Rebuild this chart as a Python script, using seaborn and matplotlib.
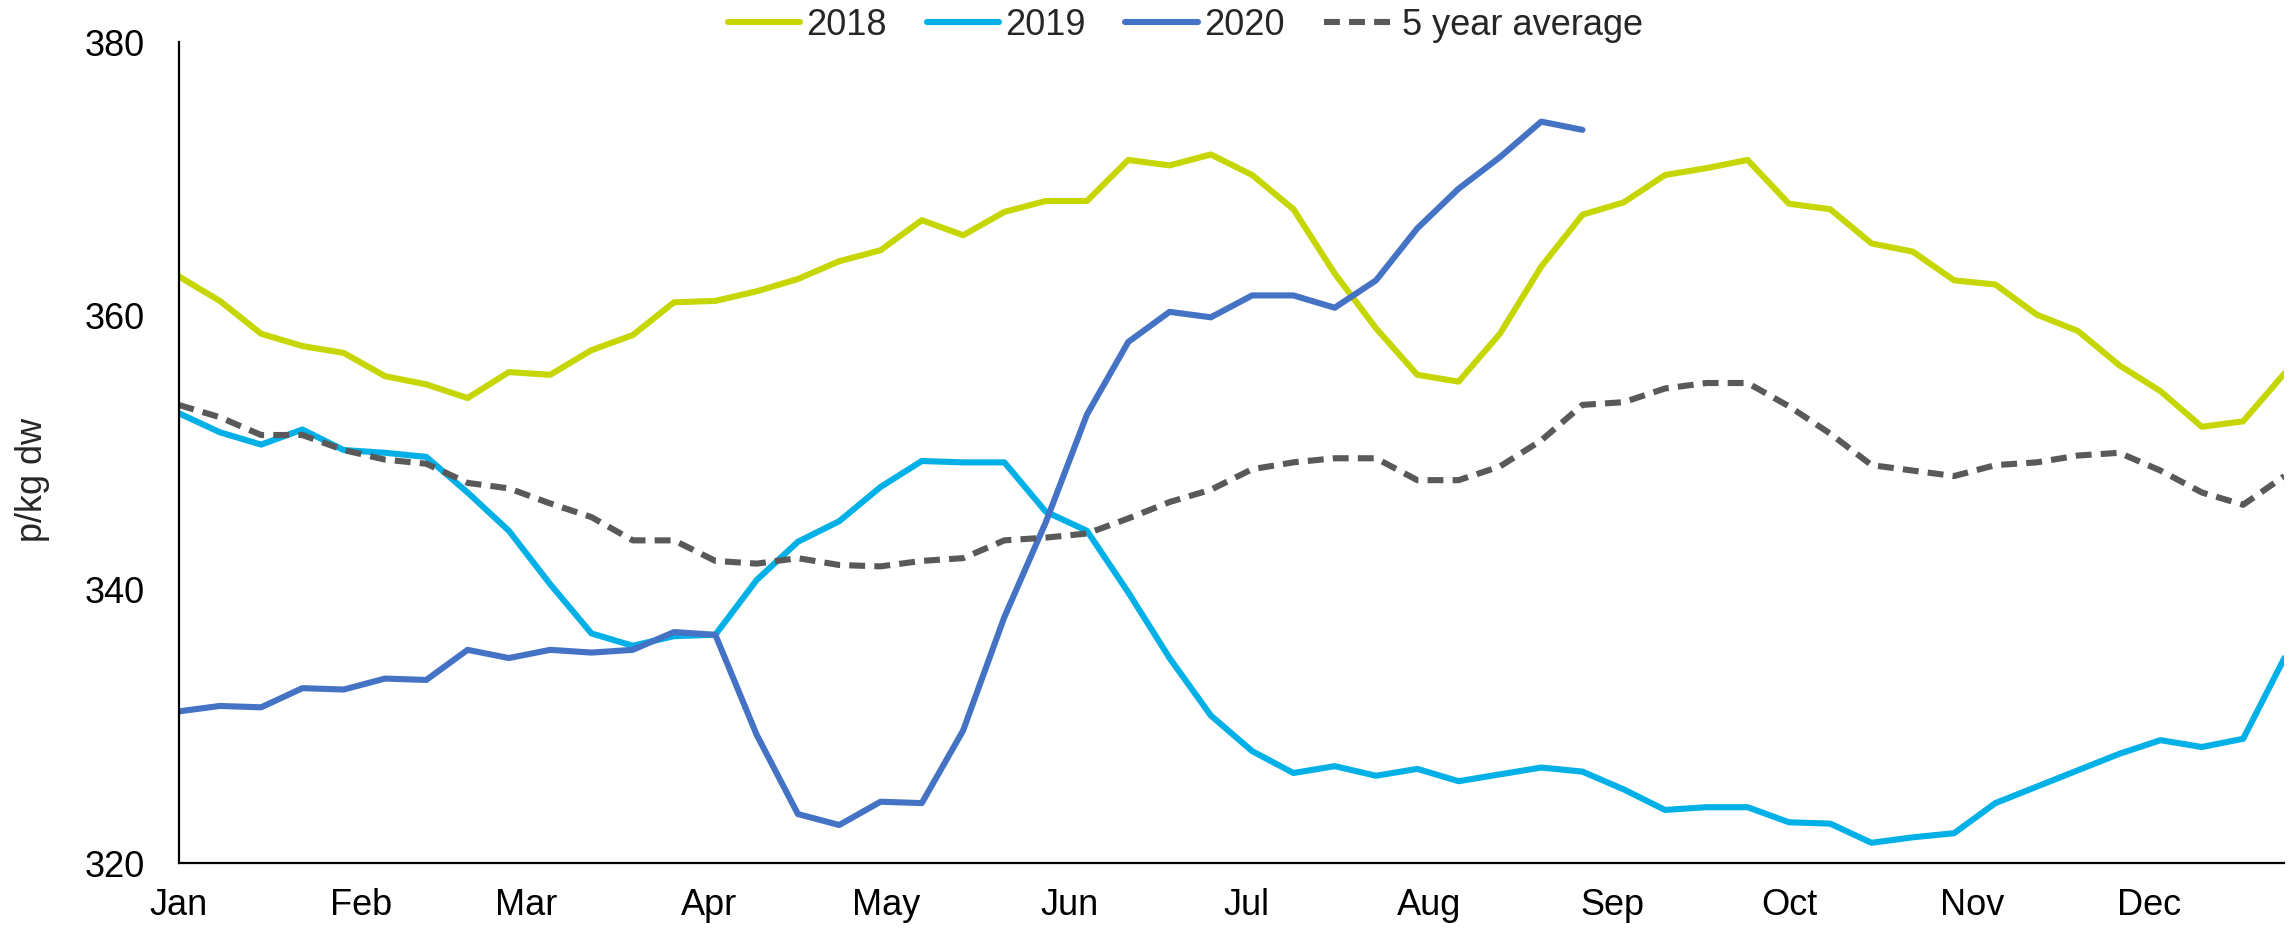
import matplotlib
matplotlib.use("Agg")
import matplotlib.pyplot as plt
import matplotlib.dates as mdates
import pandas as pd
import seaborn as sns

# weekly prices, p/kg dw
weeks = pd.date_range("2019-01-01", periods=52, freq="7D")

y2018 = [362.9, 361.1, 358.7, 357.8, 357.3, 355.6, 355.0, 354.0, 355.9, 355.7,
         357.5, 358.6, 361.0, 361.1, 361.8, 362.7, 364.0, 364.8, 367.0, 365.9,
         367.6, 368.4, 368.4, 371.4, 371.0, 371.8, 370.3, 367.8, 363.1, 359.1,
         355.7, 355.2, 358.7, 363.6, 367.4, 368.3, 370.3, 370.8, 371.4, 368.2,
         367.8, 365.3, 364.7, 362.6, 362.3, 360.1, 358.9, 356.4, 354.5, 351.9,
         352.3, 355.8]

y2019 = [352.9, 351.5, 350.6, 351.7, 350.2, 350.0, 349.7, 347.1, 344.3, 340.4,
         336.8, 335.9, 336.6, 336.7, 340.7, 343.5, 345.0, 347.5, 349.4, 349.3,
         349.3, 345.7, 344.3, 339.8, 335.0, 330.8, 328.2, 326.6, 327.1, 326.4,
         326.9, 326.0, 326.5, 327.0, 326.7, 325.4, 323.9, 324.1, 324.1, 323.0,
         322.9, 321.5, 321.9, 322.2, 324.4, 325.6, 326.8, 328.0, 329.0, 328.5,
         329.1, 335.0]

y2020 = [331.1, 331.5, 331.4, 332.8, 332.7, 333.5, 333.4, 335.6, 335.0, 335.6,
         335.4, 335.6, 336.9, 336.7, 329.4, 323.6, 322.8, 324.5, 324.4, 329.7,
         338.0, 344.9, 352.8, 358.1, 360.3, 359.9, 361.5, 361.5, 360.6, 362.6,
         366.4, 369.3, 371.6, 374.2, 373.6]

avg5 = [353.5, 352.6, 351.3, 351.3, 350.2, 349.5, 349.2, 347.8, 347.4, 346.3,
        345.3, 343.6, 343.6, 342.1, 341.9, 342.3, 341.8, 341.7, 342.1, 342.3,
        343.6, 343.8, 344.1, 345.2, 346.4, 347.3, 348.8, 349.3, 349.6, 349.6,
        348.0, 348.0, 349.0, 350.9, 353.5, 353.7, 354.7, 355.1, 355.1, 353.4,
        351.4, 349.1, 348.7, 348.3, 349.1, 349.3, 349.8, 350.0, 348.7, 347.1,
        346.2, 348.3]

sns.set_theme(style="white")
plt.rcParams["font.family"] = ["Liberation Sans", "DejaVu Sans"]

fig, ax = plt.subplots(figsize=(22.89, 9.31), dpi=100)
fig.subplots_adjust(left=0.078, right=0.998, bottom=0.0727, top=0.9546)

lw = 4.4
sns.lineplot(x=weeks, y=y2018, ax=ax, color="#C5D600", linewidth=lw, label="2018")
sns.lineplot(x=weeks, y=y2019, ax=ax, color="#00B0E6", linewidth=lw, label="2019")
sns.lineplot(x=weeks[:len(y2020)], y=y2020, ax=ax, color="#4472C4", linewidth=lw, label="2020")
sns.lineplot(x=weeks, y=avg5, ax=ax, color="#595959", linewidth=lw,
             linestyle=(0, (2.6, 1.5)), label="5 year average")

ax.set_xlim(weeks[0], weeks[-1])
ax.set_ylim(320, 380)
ax.set_yticks([320, 340, 360, 380])
ax.xaxis.set_major_locator(mdates.MonthLocator())
ax.xaxis.set_major_formatter(mdates.DateFormatter("%b"))
ax.set_xlabel("")
ax.set_ylabel("p/kg dw", fontsize=26)
ax.yaxis.set_label_coords(-0.061, 0.467)

for side in ["top", "right"]:
    ax.spines[side].set_visible(False)
for side in ["left", "bottom"]:
    ax.spines[side].set_color("black")
    ax.spines[side].set_linewidth(1.6)
ax.tick_params(axis="both", which="major", direction="out", length=8, width=1.6,
               color="black", labelsize=26, labelcolor="black")
ax.tick_params(axis="y", pad=16)
ax.tick_params(axis="x", pad=10)

ax.legend(loc="center", bbox_to_anchor=(0.518, 0.973), bbox_transform=fig.transFigure,
          ncol=4, frameon=False, fontsize=26, handlelength=2.0, handletextpad=0.17,
          columnspacing=1.1)

fig.savefig("out.png", dpi=100)
plt.close(fig)
